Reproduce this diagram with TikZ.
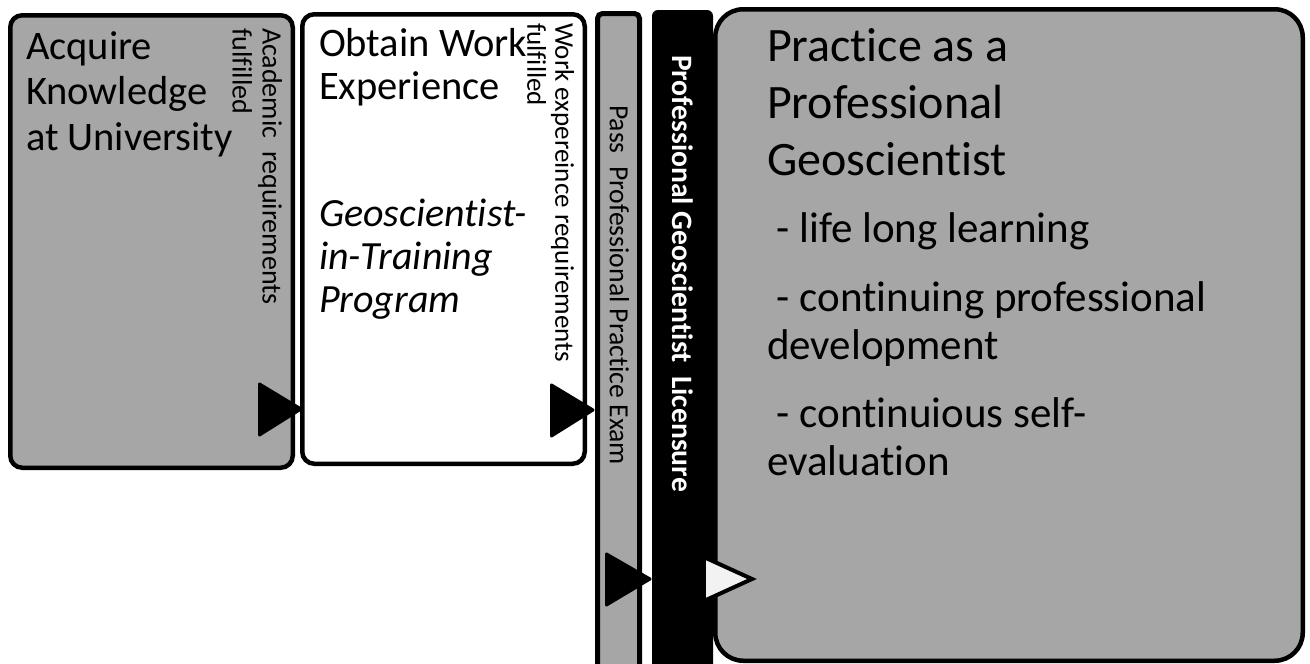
\documentclass[tikz,border=0pt]{standalone}
\usepackage{fontspec}
\setmainfont{Carlito}[Ligatures={NoCommon}]
\definecolor{boxgrey}{HTML}{A6A6A6}
\definecolor{tipgrey}{HTML}{F2F2F2}
\tikzset{
  panel/.style={draw=black, line width=4.5pt, rectangle, inner sep=0pt, outer sep=0pt, anchor=north west},
  vtext/.style={rotate=-90, anchor=north west, inner sep=0pt, outer sep=0pt, align=left},
  htext/.style={anchor=north west, inner sep=0pt, outer sep=0pt, align=left},
  marker/.style={fill=black, draw=black, line width=3pt, line join=round},
  openmarker/.style={fill=tipgrey, draw=black, line width=4pt, line join=miter}
}
\begin{document}
\begin{tikzpicture}[x=1pt,y=-1pt]
\useasboundingbox (0,0) rectangle (1310,664);
% panels
\node[panel, fill=boxgrey, rounded corners=12pt, minimum width=282.5pt, minimum height=452.5pt] (acq) at (10.25,15.25) {};
\node[panel, fill=white, rounded corners=12pt, minimum width=282.5pt, minimum height=449.5pt] (work) at (302.25,14.25) {};
\node[panel, fill=boxgrey, line width=5pt, rounded corners=5pt, minimum width=42pt, minimum height=706pt] (exam) at (597.5,13.5) {};
\node[panel, fill=black, line width=0pt, draw=none, rounded corners=6pt, minimum width=61pt, minimum height=710pt] (lic) at (652,10) {};
\node[panel, fill=boxgrey, rounded corners=28pt, minimum width=587.5pt, minimum height=651.5pt] (prac) at (715.25,9.25) {};
% markers
\draw[marker] (259.5,384) -- (301,409) -- (259.5,435) -- cycle;
\draw[marker] (551.5,385) -- (593,410) -- (551.5,436) -- cycle;
\draw[marker] (606.5,554) -- (650,579) -- (606.5,605) -- cycle;
\draw[openmarker] (706,558) -- (752,579) -- (706,600);
% texts
\node[htext, font=\fontsize{40.5}{45.5}\selectfont] (acqt) at (26,31.5) {Acquire\\Knowledge\\at University};
\node[vtext, font=\fontsize{28}{30}\selectfont] (acqv) at (282,28) {Academic~ requirements\\fulfilled};
\node[htext, font=\fontsize{40.5}{43}\selectfont] (workt) at (319,28.5) {Obtain Work\\Experience};
\node[htext, font=\fontsize{40}{43}\selectfont\itshape] (gitp) at (319,199) {Geoscientist-\\in-Training\\Program};
\node[vtext, font=\fontsize{27}{28}\selectfont] (workv) at (574,23) {Work expereince requirements\\fulfilled};
\node[vtext, font=\fontsize{27.7}{30}\selectfont] (examt) at (629,105) {Pass~ Professional Practice Exam};
\node[vtext, font=\fontsize{29.6}{32}\selectfont\bfseries, text=white] (lict) at (693,55) {Professional Geoscientist~ Licensure};
\node[htext, font=\fontsize{48}{57}\selectfont] (pract) at (767,28.5) {Practice as a\\Professional\\Geoscientist};
\node[htext, font=\fontsize{43}{48}\selectfont] (pracb) at (767,213) {\hspace*{0.226em}- life long learning\\[20.5pt]\hspace*{0.226em}- continuing professional\\development\\[20.5pt]\hspace*{0.226em}- continuious self-\\evaluation};
\end{tikzpicture}
\end{document}
